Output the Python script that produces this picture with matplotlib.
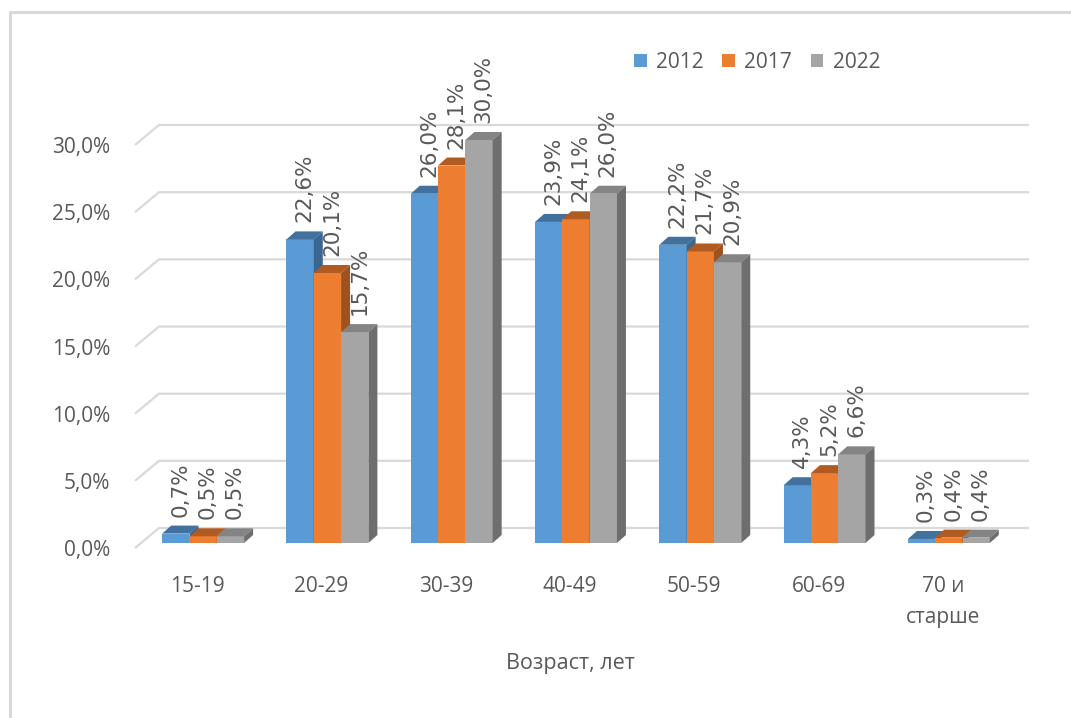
import matplotlib
matplotlib.use('Agg')
import matplotlib.pyplot as plt
from matplotlib.patches import Polygon, Patch
from matplotlib.lines import Line2D

# data
groups = ['15-19', '20-29', '30-39', '40-49', '50-59', '60-69', '70 и\nстарше']
years = ['2012', '2017', '2022']
v2012 = [0.7, 22.6, 26.0, 23.9, 22.2, 4.3, 0.3]
v2017 = [0.5, 20.1, 28.1, 24.1, 21.7, 5.2, 0.4]
v2022 = [0.5, 15.7, 30.0, 26.0, 20.9, 6.6, 0.4]
yticks = [0, 5, 10, 15, 20, 25, 30]
xlabel = 'Возраст, лет'

front = ['#5B9BD5', '#ED7D31', '#A5A5A5']
top = ['#41719C', '#B05B22', '#848484']
side = ['#3A6690', '#9E521D', '#6E6E6E']
txt = '#595959'
grid = '#D9D9D9'

plt.rcParams['font.family'] = ['Open Sans', 'DejaVu Sans']

W, H = 1071, 718
fig = plt.figure(figsize=(W / 100, H / 100), dpi=100)
ax = fig.add_axes([135 / W, 1 - 548 / H, 870 / W, 403 / H])
ax.set_xlim(-0.5, 6.5)
ax.set_ylim(0, 30)

# pixel -> data units
sx = 7 / 870
sy = 30 / 403
ox, oy = 6 * sx, 5 * sy        # bars sit a bit behind the floor front edge
dx, dy = 9 * sx, 8 * sy        # bar depth
gx, gy = 24 * sx, 20 * sy      # back wall offset
bw = 27.3 * sx

# gridlines on the back wall, with the diagonal on the left wall
for t in yticks:
    ax.plot([-0.5, -0.5 + gx, 6.5 + gx], [t, t + gy, t + gy], color=grid,
            lw=1.6, zorder=1, clip_on=False, solid_capstyle='butt')

series = [v2012, v2017, v2022]
for j, vals in enumerate(series):
    xs = [i + ox + (j - 1) * bw for i in range(len(groups))]
    ax.bar(xs, vals, width=bw, bottom=oy, color=front[j], zorder=3 + j,
           clip_on=False)
    for x, v in zip(xs, vals):
        xl, xr = x - bw / 2, x + bw / 2
        yt = oy + v
        ax.add_patch(Polygon([(xl, yt), (xl + dx, yt + dy), (xr + dx, yt + dy), (xr, yt)],
                             closed=True, facecolor=top[j], edgecolor='none',
                             zorder=3 + j, clip_on=False))
        ax.add_patch(Polygon([(xr, oy), (xr + dx, oy + dy), (xr + dx, yt + dy), (xr, yt)],
                             closed=True, facecolor=side[j], edgecolor='none',
                             zorder=3 + j, clip_on=False))
        lab = f'{v:.1f}%'.replace('.', ',')
        ax.text(x + dx / 2, yt + 17 * sy, lab, rotation=90, ha='center', va='bottom',
                fontsize=15.5, family='DejaVu Sans', color=txt, zorder=10, clip_on=False)

ax.set_yticks(yticks, labels=[f'{t:.1f}%'.replace('.', ',') for t in yticks])
ax.set_xticks(range(len(groups)), labels=groups)
ax.tick_params(axis='both', length=0, labelsize=15, labelcolor=txt)
ax.tick_params(axis='y', pad=18)
ax.tick_params(axis='x', pad=20)
for lbl in ax.get_xticklabels():
    lbl.set_multialignment('center')
    lbl.set_linespacing(1.65)
ax.set_xlabel(xlabel, fontsize=15.5, color=txt, labelpad=18)
for s in ax.spines.values():
    s.set_visible(False)

handles = [Patch(facecolor=c) for c in front]
leg = fig.legend(handles, years, loc='center', bbox_to_anchor=(757 / W, 1 - 62 / H),
                 ncol=3, frameon=False, fontsize=15, handlelength=0.6, handleheight=0.6,
                 handletextpad=0.45, columnspacing=0.9)
for t in leg.get_texts():
    t.set_color(txt)

# outer frame (only left and top edges show)
fig.add_artist(Line2D([10 / W, 10 / W, 1.0], [0.0, 1 - 12 / H, 1 - 12 / H],
                      transform=fig.transFigure, color=grid, lw=2.2))

fig.savefig('out.png', dpi=100)
